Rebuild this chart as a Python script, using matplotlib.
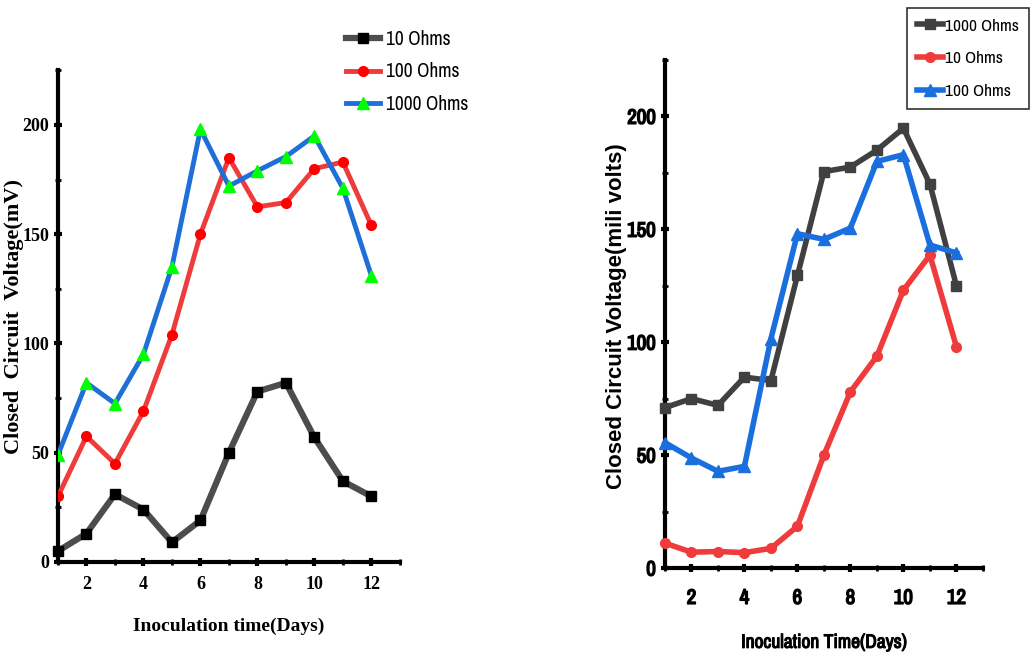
import matplotlib.pyplot as plt
import matplotlib.patheffects as pe
from matplotlib import font_manager as fm
from matplotlib.font_manager import FontProperties
from matplotlib.ticker import MultipleLocator

days = list(range(1, 13))

# left panel
left_10 = [5, 13, 31, 24, 9, 19, 50, 78, 82, 57, 37, 30]
left_100 = [30, 57.5, 45, 69, 104, 150, 185, 162.5, 164.5, 180, 183, 154]
left_1000 = [49, 82, 72.5, 95, 135, 198, 172, 179, 185.5, 195, 171, 131]

# right panel
right_1000 = [71, 75, 72, 84.5, 83, 129.5, 175.5, 177.5, 185, 194.7, 170, 125]
right_10 = [11, 7, 7.3, 6.8, 8.7, 18.5, 50, 78, 93.8, 123, 138.5, 98]
right_100 = [55.5, 48.7, 42.8, 45, 101.5, 148, 145.5, 150.5, 180, 183, 143, 139.5]


def wnum(w):
    if isinstance(w, str):
        return fm.weight_dict.get(w, 400)
    return w


# regular face of the first narrow family found
def narrow_file():
    name = None
    for f in fm.fontManager.ttflist:
        if 'Narrow' in f.name or 'Condensed' in f.name:
            name = f.name
            break
    if name is None:
        return None
    same = [f for f in fm.fontManager.ttflist
            if f.name == name and f.style == 'normal']
    return min(same, key=lambda f: abs(wnum(f.weight) - 400)).fname


reg_file = narrow_file()


def nprop(size):
    if reg_file is None:
        return FontProperties(family='Liberation Sans', size=size * 0.8)
    return FontProperties(fname=reg_file, size=size)


# faux bold for the narrow face
heavy = [pe.withStroke(linewidth=1.1, foreground='black')]
serif = ['Liberation Serif', 'DejaVu Serif']

fig = plt.figure(figsize=(10.33, 6.6), dpi=100)


def style_axes(ax, prop, xpad, effects=None):
    for s in ['top', 'right']:
        ax.spines[s].set_visible(False)
    for s in ['left', 'bottom']:
        ax.spines[s].set_linewidth(3)
    ax.set_xlim(1, 13)
    ax.set_ylim(0, 225)
    ax.xaxis.set_major_locator(MultipleLocator(2))
    ax.xaxis.set_minor_locator(MultipleLocator(1))
    ax.yaxis.set_major_locator(MultipleLocator(50))
    ax.yaxis.set_minor_locator(MultipleLocator(25))
    ax.tick_params(which='major', length=6, width=3, direction='inout')
    ax.tick_params(which='minor', length=4, width=2, direction='inout')
    ax.tick_params(axis='x', which='major', pad=xpad)
    for lab in ax.get_xticklabels() + ax.get_yticklabels():
        lab.set_fontproperties(prop)
        if effects:
            lab.set_path_effects(effects)


# ---- left chart ----
ax1 = fig.add_axes([0.0561, 0.1485, 0.331, 0.745])
ax1.plot(days, left_10, color='#4d4d4d', lw=4.5, marker='s', ms=7,
         mfc='black', mec='black', label='10 Ohms', clip_on=False, zorder=3)
ax1.plot(days, left_100, color='#ee3b3b', lw=3.5, marker='o', ms=7,
         mfc='red', mec='red', label='100 Ohms', zorder=3)
ax1.plot(days, left_1000, color='#1f6fd8', lw=3.5, marker='^', ms=8,
         mfc='#00ff00', mec='#00ff00', label='1000 Ohms', zorder=3)
style_axes(ax1, FontProperties(family=serif, weight='bold', size=13), 7)
ax1.set_xlabel('Inoculation time(Days)', family=serif, fontweight='bold',
               fontsize=14, labelpad=18)
ax1.set_ylabel('Closed  Circuit  Voltage(mV)', family=serif,
               fontweight='bold', fontsize=16)
ax1.yaxis.set_label_coords(-0.1, 0.5)
ax1.legend(loc='upper left', bbox_to_anchor=(338 / 1033, 1 - 22 / 660),
           bbox_transform=fig.transFigure, frameon=False, prop=nprop(14),
           handlelength=1.75, labelspacing=0.7, handletextpad=0.3,
           borderaxespad=0)

# ---- right chart ----
ax2 = fig.add_axes([0.6437, 0.1394, 0.3078, 0.770])
ax2.plot(days, right_1000, color='#404040', lw=4, marker='s', ms=7,
         label='1000 Ohms', clip_on=False, zorder=3)
ax2.plot(days, right_10, color='#ef3b3b', lw=4, marker='o', ms=7,
         label='10 Ohms', clip_on=False, zorder=3)
ax2.plot(days, right_100, color='#1a6fdf', lw=4, marker='^', ms=8,
         label='100 Ohms', clip_on=False, zorder=3)
style_axes(ax2, nprop(15), 12, heavy)
ax2.set_xlabel('Inoculation Time(Days)', fontproperties=nprop(14),
               labelpad=18, path_effects=[pe.withStroke(linewidth=0.8,
                                                        foreground='black')])
ax2.set_ylabel('Closed Circuit Voltage(mili volts)', family='Liberation Sans',
               fontweight='bold', fontsize=16)
ax2.yaxis.set_label_coords(-0.118, 0.495)
leg2 = ax2.legend(loc='upper right', bbox_to_anchor=(1029 / 1033, 1 - 8 / 660),
                  bbox_transform=fig.transFigure, frameon=True,
                  fancybox=False, edgecolor='black', prop=nprop(12.5),
                  handlelength=1.5, labelspacing=1.0, handletextpad=0.1,
                  borderpad=0.6, borderaxespad=0)
leg2.get_frame().set_linewidth(1.2)

fig.savefig('out.png', dpi=100)
